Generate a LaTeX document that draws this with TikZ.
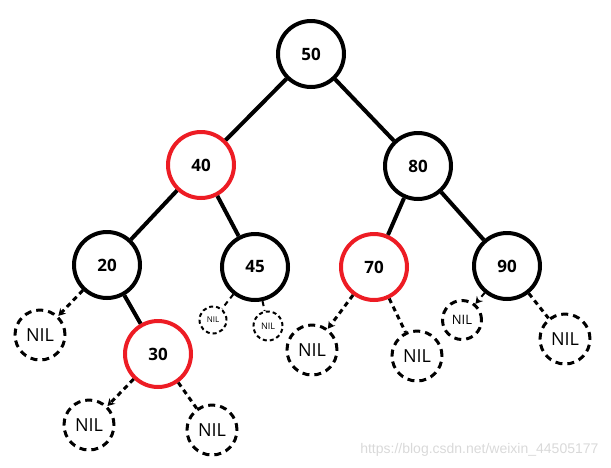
\documentclass[tikz,border=0pt]{standalone}
\usepackage{fontspec}
\setmainfont{Open Sans}
\newfontfamily\wmfont{Liberation Sans}
\usetikzlibrary{arrows.meta}
\definecolor{paintred}{RGB}{237,28,36}
\tikzset{
	key/.style={circle, draw=black, line width=4pt, minimum size=66pt, inner sep=0pt, font=\bfseries\fontsize{17}{17}\selectfont},
	redkey/.style={key, draw=paintred},
	nil/.style={circle, draw=black, line width=3pt, dash pattern=on 7pt off 5pt, minimum size=50pt, inner sep=0pt, font=\fontsize{18}{18}\selectfont},
	branch/.style={line width=4pt},
	nilbranch/.style={line width=3pt, dash pattern=on 5pt off 4pt},
	niltip/.style={nilbranch, -{Stealth[length=7pt,width=8pt]}}
}
\begin{document}
\begin{tikzpicture}[x=1pt,y=-1pt]
	\useasboundingbox (0,0) rectangle (611,467);
	% keys
	\node[key] (n50) at (311,54) {50};
	\node[redkey] (n40) at (201,165) {40};
	\node[key] (n80) at (418,166) {80};
	\node[key] (n20) at (107,265) {20};
	\node[key] (n45) at (255,267) {45};
	\node[redkey] (n70) at (374,267) {70};
	\node[key] (n90) at (507,266) {90};
	\node[redkey] (n30) at (158,354) {30};
	% leaves
	\node[nil] (nil20) at (40,335) {NIL};
	\node[nil] (nil30l) at (89,425) {NIL};
	\node[nil] (nil30r) at (212,430) {NIL};
	\node[nil, minimum size=27pt, line width=2pt, dash pattern=on 4pt off 3pt, font=\fontsize{8}{8}\selectfont] (nil45l) at (213,320) {NIL};
	\node[nil, minimum size=29pt, line width=2pt, dash pattern=on 4pt off 3pt, font=\fontsize{9}{9}\selectfont] (nil45r) at (268,326) {NIL};
	\node[nil] (nil70l) at (312,350) {NIL};
	\node[nil] (nil70r) at (417,356) {NIL};
	\node[nil, minimum size=39pt, font=\fontsize{13}{13}\selectfont] (nil90l) at (462,320) {NIL};
	\node[nil] (nil90r) at (565,339) {NIL};
	% branches
	\draw[branch] (n50) -- (n40);
	\draw[branch] (n50) -- (n80);
	\draw[branch] (n40) -- (n20);
	\draw[branch] (n40) -- (n45);
	\draw[branch] (n80) -- (n70);
	\draw[branch] (n80) -- (n90);
	\draw[branch] (n20) -- (n30);
	\draw[niltip] (n20) -- (nil20);
	\draw[niltip] (n30) -- (nil30l);
	\draw[nilbranch] (n30) -- (nil30r);
	\draw[nilbranch, line width=2pt] (n45) -- (nil45l);
	\draw[nilbranch, line width=2pt] (n45) -- (nil45r);
	\draw[niltip] (n70) -- (nil70l);
	\draw[nilbranch] (n70) -- (nil70r);
	\draw[niltip, line width=2pt] (n90) -- (nil90l);
	\draw[nilbranch] (n90) -- (nil90r);
	% watermark
	\node[anchor=east, text=black!15, font=\wmfont\fontsize{14}{14}\selectfont] (mark) at (602,450) {https://blog.csdn.net/weixin\_44505177};
\end{tikzpicture}
\end{document}
